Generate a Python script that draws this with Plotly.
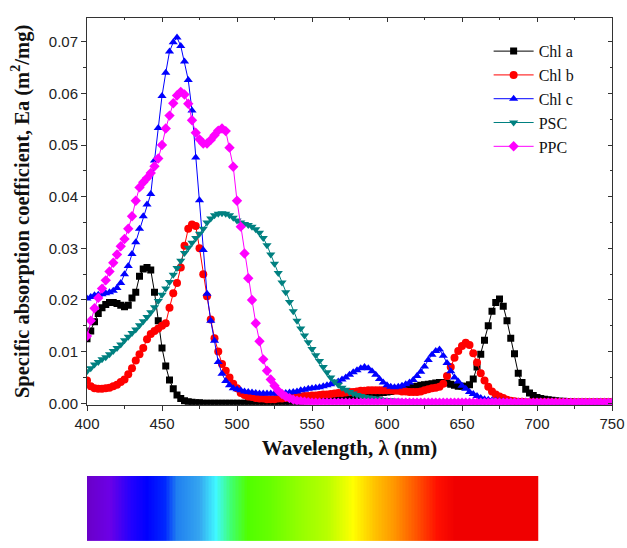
import numpy as np
import plotly.graph_objects as go

# Wavelength grid (nm)
wavelength = np.arange(400, 750.01, 2.5)

chl_a = [
    0.0125, 0.0140, 0.0158, 0.0174, 0.0185, 0.0191, 0.0195, 0.0195, 0.0193, 0.0190,
    0.0187, 0.0190, 0.0204, 0.0215, 0.0246, 0.0260, 0.0263, 0.0258, 0.0215, 0.0160,
    0.0107, 0.0072, 0.0045, 0.0028, 0.0016, 0.0009, 0.0005, 0.0003, 0.0002, 0.0001,
    0.0001, 0.0000, 0.0000, 0.0000, 0.0000, 0.0000, 0.0000, 0.0000, 0.0000, 0.0000,
    0.0000, 0.0000, 0.0000, 0.0001, 0.0001, 0.0001, 0.0001, 0.0001, 0.0002, 0.0002,
    0.0002, 0.0002, 0.0003, 0.0003, 0.0003, 0.0004, 0.0004, 0.0004, 0.0005, 0.0005,
    0.0006, 0.0007, 0.0008, 0.0008, 0.0009, 0.0010, 0.0011, 0.0011, 0.0012, 0.0013,
    0.0014, 0.0014, 0.0015, 0.0016, 0.0016, 0.0017, 0.0018, 0.0019, 0.0020, 0.0021,
    0.0022, 0.0023, 0.0025, 0.0026, 0.0027, 0.0029, 0.0030, 0.0032, 0.0033, 0.0035,
    0.0036, 0.0037, 0.0038, 0.0039, 0.0040, 0.0040, 0.0039, 0.0037, 0.0035, 0.0033,
    0.0033, 0.0033, 0.0036, 0.0047, 0.0070, 0.0095, 0.0122, 0.0150, 0.0178, 0.0195,
    0.0202, 0.0188, 0.0160, 0.0126, 0.0096, 0.0058, 0.0040, 0.0027, 0.0020, 0.0015,
    0.0011, 0.0009, 0.0008, 0.0007, 0.0006, 0.0005, 0.0004, 0.0004, 0.0003, 0.0003,
    0.0002, 0.0002, 0.0002, 0.0002, 0.0002, 0.0002, 0.0002, 0.0002, 0.0002, 0.0002,
    0.0002,
]

chl_b = [
    0.0044, 0.0033, 0.0029, 0.0028, 0.0028, 0.0029, 0.0030, 0.0033, 0.0036, 0.0041,
    0.0046, 0.0056, 0.0068, 0.0083, 0.0095, 0.0107, 0.0124, 0.0134, 0.0140, 0.0145,
    0.0150, 0.0155, 0.0185, 0.0213, 0.0233, 0.0263, 0.0305, 0.0338, 0.0346, 0.0343,
    0.0300, 0.0250, 0.0207, 0.0162, 0.0126, 0.0100, 0.0076, 0.0063, 0.0050, 0.0038,
    0.0029, 0.0020, 0.0016, 0.0013, 0.0012, 0.0010, 0.0009, 0.0009, 0.0008, 0.0008,
    0.0008, 0.0009, 0.0009, 0.0010, 0.0011, 0.0012, 0.0012, 0.0013, 0.0014, 0.0014,
    0.0015, 0.0015, 0.0016, 0.0017, 0.0017, 0.0018, 0.0019, 0.0020, 0.0020, 0.0021,
    0.0022, 0.0022, 0.0023, 0.0024, 0.0024, 0.0025, 0.0025, 0.0025, 0.0025, 0.0025,
    0.0025, 0.0025, 0.0024, 0.0024, 0.0023, 0.0023, 0.0022, 0.0022, 0.0022, 0.0023,
    0.0025, 0.0027, 0.0029, 0.0030, 0.0032, 0.0038, 0.0053, 0.0070, 0.0088, 0.0101,
    0.0111, 0.0117, 0.0113, 0.0097, 0.0079, 0.0058, 0.0044, 0.0032, 0.0023, 0.0017,
    0.0013, 0.0010, 0.0007, 0.0005, 0.0004, 0.0003, 0.0003, 0.0002, 0.0002, 0.0002,
    0.0002, 0.0002, 0.0002, 0.0002, 0.0002, 0.0002, 0.0002, 0.0002, 0.0002, 0.0002,
    0.0002, 0.0002, 0.0002, 0.0002, 0.0002, 0.0002, 0.0002, 0.0002, 0.0002, 0.0002,
    0.0002,
]

chl_c = [
    0.0203, 0.0206, 0.0209, 0.0210, 0.0211, 0.0213, 0.0215, 0.0218, 0.0223, 0.0233,
    0.0250, 0.0266, 0.0289, 0.0312, 0.0338, 0.0362, 0.0385, 0.0405, 0.0470, 0.0533,
    0.0595, 0.0640, 0.0681, 0.0699, 0.0708, 0.0692, 0.0662, 0.0626, 0.0567, 0.0476,
    0.0393, 0.0297, 0.0212, 0.0160, 0.0121, 0.0080, 0.0057, 0.0043, 0.0035, 0.0029,
    0.0027, 0.0025, 0.0023, 0.0022, 0.0021, 0.0020, 0.0019, 0.0019, 0.0019, 0.0019,
    0.0019, 0.0019, 0.0019, 0.0020, 0.0021, 0.0022, 0.0023, 0.0025, 0.0026, 0.0028,
    0.0029, 0.0030, 0.0031, 0.0033, 0.0035, 0.0037, 0.0039, 0.0042, 0.0046, 0.0050,
    0.0055, 0.0060, 0.0064, 0.0068, 0.0070, 0.0068, 0.0062, 0.0055, 0.0047, 0.0040,
    0.0035, 0.0032, 0.0031, 0.0032, 0.0034, 0.0037, 0.0040, 0.0045, 0.0053, 0.0061,
    0.0071, 0.0084, 0.0094, 0.0101, 0.0104, 0.0092, 0.0078, 0.0062, 0.0050, 0.0042,
    0.0034, 0.0028, 0.0022, 0.0018, 0.0014, 0.0010, 0.0008, 0.0007, 0.0006, 0.0005,
    0.0004, 0.0004, 0.0003, 0.0003, 0.0003, 0.0003, 0.0003, 0.0003, 0.0003, 0.0003,
    0.0003, 0.0002, 0.0002, 0.0002, 0.0002, 0.0002, 0.0002, 0.0002, 0.0002, 0.0002,
    0.0002, 0.0002, 0.0002, 0.0002, 0.0002, 0.0002, 0.0002, 0.0002, 0.0002, 0.0002,
    0.0002,
]

psc = [
    0.0062, 0.0068, 0.0075, 0.0080, 0.0085, 0.0089, 0.0095, 0.0101, 0.0107, 0.0114,
    0.0122, 0.0129, 0.0136, 0.0143, 0.0151, 0.0159, 0.0167, 0.0176, 0.0186, 0.0198,
    0.0210, 0.0222, 0.0235, 0.0249, 0.0262, 0.0276, 0.0291, 0.0301, 0.0311, 0.0320,
    0.0328, 0.0338, 0.0350, 0.0358, 0.0364, 0.0367, 0.0368, 0.0367, 0.0364, 0.0359,
    0.0354, 0.0350, 0.0347, 0.0345, 0.0342, 0.0337, 0.0330, 0.0320, 0.0306, 0.0288,
    0.0270, 0.0252, 0.0234, 0.0215, 0.0196, 0.0178, 0.0160, 0.0145, 0.0131, 0.0118,
    0.0105, 0.0093, 0.0082, 0.0070, 0.0060, 0.0050, 0.0042, 0.0036, 0.0030, 0.0026,
    0.0022, 0.0019, 0.0016, 0.0014, 0.0012, 0.0011, 0.0010, 0.0009, 0.0008, 0.0007,
    0.0006, 0.0006, 0.0005, 0.0005, 0.0004, 0.0004, 0.0004, 0.0003, 0.0003, 0.0003,
    0.0002, 0.0002, 0.0002, 0.0002, 0.0002, 0.0002, 0.0002, 0.0002, 0.0002, 0.0002,
    0.0002, 0.0002, 0.0002, 0.0002, 0.0002, 0.0002, 0.0002, 0.0002, 0.0002, 0.0002,
    0.0002, 0.0002, 0.0002, 0.0002, 0.0002, 0.0002, 0.0002, 0.0002, 0.0002, 0.0002,
    0.0002, 0.0002, 0.0002, 0.0002, 0.0002, 0.0002, 0.0002, 0.0002, 0.0002, 0.0002,
    0.0002, 0.0002, 0.0002, 0.0002, 0.0002, 0.0002, 0.0002, 0.0002, 0.0002, 0.0002,
    0.0002,
]

ppc = [
    0.0130, 0.0160, 0.0184, 0.0204, 0.0222, 0.0238, 0.0255, 0.0272, 0.0288, 0.0304,
    0.0318, 0.0338, 0.0362, 0.0392, 0.0418, 0.0428, 0.0436, 0.0446, 0.0459, 0.0474,
    0.0500, 0.0532, 0.0557, 0.0581, 0.0596, 0.0603, 0.0598, 0.0580, 0.0548, 0.0524,
    0.0511, 0.0503, 0.0503, 0.0510, 0.0519, 0.0528, 0.0532, 0.0527, 0.0495, 0.0458,
    0.0392, 0.0342, 0.0290, 0.0242, 0.0200, 0.0155, 0.0120, 0.0085, 0.0063, 0.0046,
    0.0034, 0.0024, 0.0018, 0.0013, 0.0010, 0.0007, 0.0005, 0.0004, 0.0003, 0.0002,
    0.0001, 0.0001, 0.0001, 0.0001, 0.0001, 0.0001, 0.0001, 0.0001, 0.0001, 0.0001,
    0.0001, 0.0001, 0.0001, 0.0001, 0.0001, 0.0001, 0.0001, 0.0001, 0.0001, 0.0001,
    0.0001, 0.0001, 0.0001, 0.0001, 0.0001, 0.0001, 0.0001, 0.0001, 0.0001, 0.0001,
    0.0001, 0.0001, 0.0001, 0.0001, 0.0001, 0.0001, 0.0001, 0.0001, 0.0001, 0.0001,
    0.0001, 0.0001, 0.0001, 0.0001, 0.0001, 0.0001, 0.0001, 0.0001, 0.0001, 0.0001,
    0.0001, 0.0001, 0.0001, 0.0001, 0.0001, 0.0001, 0.0001, 0.0001, 0.0001, 0.0001,
    0.0001, 0.0001, 0.0001, 0.0001, 0.0001, 0.0001, 0.0001, 0.0001, 0.0001, 0.0001,
    0.0001, 0.0001, 0.0001, 0.0001, 0.0001, 0.0001, 0.0001, 0.0001, 0.0001, 0.0001,
    0.0001,
]

series_names = ["Chl a", "Chl b", "Chl c", "PSC", "PPC"]
series_values = [chl_a, chl_b, chl_c, psc, ppc]
series_colors = ["#000000", "#ff0000", "#0000ff", "#008080", "#ff00ff"]
series_symbols = ["square", "circle", "triangle-up", "triangle-down", "diamond"]
series_sizes = [7, 8, 8, 8, 8]

# Visible spectrum colour bar
spectrum_nm = [400, 415, 430, 440, 452, 460, 475, 486, 496, 507, 522, 540, 560, 577, 592, 604, 620, 633, 645, 700]
spectrum_colors = ["#6a00c8", "#6c00e6", "#2000ff", "#0000ff", "#0028ff", "#2080f0", "#35a5f0",
                   "#40f8ff", "#40ff70", "#50ff00", "#66ff00", "#90ff00", "#b8ff00", "#ffff00",
                   "#ffc000", "#ff9800", "#ff5000", "#ff1000", "#f00000", "#f00000"]

fig = go.Figure()
for name, vals, col, sym, sz in zip(series_names, series_values, series_colors, series_symbols, series_sizes):
    fig.add_trace(go.Scatter(
        x=wavelength, y=vals, name=name, mode="lines+markers",
        line=dict(color=col, width=1),
        marker=dict(symbol=sym, size=sz, color=col, line=dict(width=0)),
    ))

bar_nm = np.arange(400, 701, 1)
colorscale = [[(n - 400) / 300, c] for n, c in zip(spectrum_nm, spectrum_colors)]
fig.add_trace(go.Heatmap(
    x=bar_nm, y=[0], z=[bar_nm], colorscale=colorscale, zmin=400, zmax=700,
    showscale=False, xaxis="x2", yaxis="y2", hoverinfo="skip",
))

# invisible trace for mirrored inward-tick axes
fig.add_trace(go.Scatter(x=[], y=[], xaxis="x3", yaxis="y3", showlegend=False, hoverinfo="skip"))

tick_font = dict(family="Liberation Sans, Arial", size=15, color="#222222")
axcol = "#333333"

fig.update_layout(
    width=627, height=548,
    margin=dict(l=87, r=15, t=18, b=0),
    paper_bgcolor="white", plot_bgcolor="white",
    showlegend=True,
    legend=dict(x=0.765, y=0.969, xanchor="left", yanchor="top",
                bgcolor="rgba(0,0,0,0)",
                font=dict(family="Liberation Serif, Times New Roman", size=16, color="#111111"),
                itemwidth=40, tracegroupgap=0),
    xaxis=dict(domain=[0, 1], anchor="y", range=[400, 750], tick0=400, dtick=50,
               ticks="outside", ticklen=5, tickwidth=1, tickcolor=axcol,
               showline=True, linecolor=axcol, linewidth=1, mirror=True,
               showgrid=False, zeroline=False, tickfont=tick_font,
               minor=dict(dtick=25, ticks="outside", ticklen=3, tickcolor=axcol, showgrid=False),
               title=dict(text="<b>Wavelength, λ (nm)</b>",
                          font=dict(family="Liberation Serif, Times New Roman", size=21, color="#111111"),
                          standoff=9)),
    yaxis=dict(domain=[0.2604, 1], anchor="x", range=[-0.0003, 0.0746], tick0=0, dtick=0.01,
               tickformat=".2f",
               ticks="outside", ticklen=5, tickwidth=1, tickcolor=axcol,
               showline=True, linecolor=axcol, linewidth=1, mirror=True,
               showgrid=False, zeroline=False, tickfont=tick_font,
               minor=dict(dtick=0.005, ticks="outside", ticklen=3, tickcolor=axcol, showgrid=False),
               title=dict(text="<b>Specific absorption coefficient, Ea (m<sup>2</sup>/mg)</b>",
                          font=dict(family="Liberation Serif, Times New Roman", size=20.5, color="#111111"),
                          standoff=13)),
    xaxis2=dict(domain=[0, 1], anchor="y2", range=[400, 750], visible=False),
    yaxis2=dict(domain=[0, 0.1245], anchor="x2", visible=False),
    xaxis3=dict(overlaying="x", anchor="y3", side="top", range=[400, 750], tick0=400, dtick=50,
                ticks="inside", ticklen=4, tickcolor=axcol, showticklabels=False,
                showline=False, showgrid=False, zeroline=False,
                minor=dict(dtick=25, ticks="inside", ticklen=2, tickcolor=axcol)),
    yaxis3=dict(overlaying="y", anchor="x3", side="right", range=[-0.0003, 0.0746], tick0=0, dtick=0.01,
                ticks="inside", ticklen=4, tickcolor=axcol, showticklabels=False,
                showline=False, showgrid=False, zeroline=False,
                minor=dict(dtick=0.005, ticks="inside", ticklen=2, tickcolor=axcol)),
)

fig.write_html("out.html")
